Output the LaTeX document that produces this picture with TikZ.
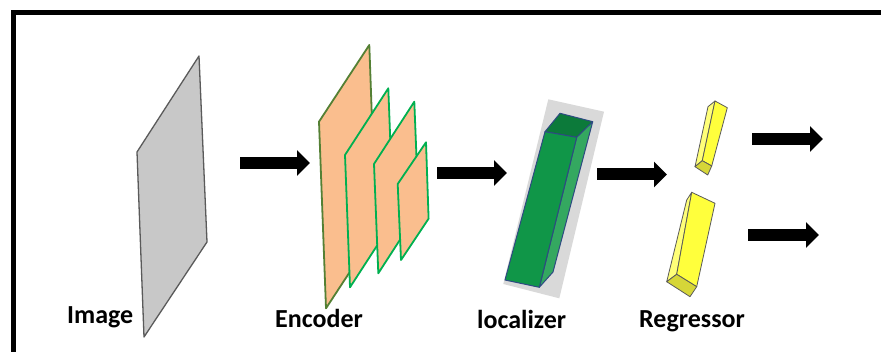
\documentclass[tikz,border=0pt]{standalone}
\usepackage{fontspec}
\setmainfont{Carlito}
\usetikzlibrary{arrows.meta}
\definecolor{planegray}{RGB}{200,200,200}
\definecolor{planeedge}{RGB}{90,90,90}
\definecolor{featfill}{RGB}{250,190,142}
\definecolor{oliveedge}{RGB}{84,128,52}
\definecolor{greenedge}{RGB}{0,176,80}
\definecolor{locfront}{RGB}{16,150,72}
\definecolor{loctop}{RGB}{12,122,58}
\definecolor{locside}{RGB}{52,168,96}
\definecolor{locedge}{RGB}{46,74,130}
\definecolor{locshadow}{RGB}{217,217,217}
\definecolor{yelface}{RGB}{255,255,60}
\definecolor{yelleft}{RGB}{255,255,120}
\definecolor{yelbottom}{RGB}{214,214,56}
\definecolor{yeledge}{RGB}{90,90,90}
\begin{document}
\begin{tikzpicture}[x=1pt,y=-1pt,
  label/.style={inner sep=0pt,anchor=base west,font=\fontsize{26}{30}\selectfont\bfseries},
  blockarrow/.style={line width=12pt,-{Triangle[length=13pt,width=25pt]}},
  plane/.style={fill=featfill,line width=1.8pt,line join=round},
  locbox/.style={draw=locedge,line width=1pt,line join=round},
  yelbox/.style={draw=yeledge,line width=0.8pt,line join=round}]
\useasboundingbox (0,0) rectangle (881,352);
\fill[white] (0,0) rectangle (881,352);

% frame
\draw[line width=5pt] (13,352) -- (13,12.5) -- (881,12.5);

% input image plane
\draw[fill=planegray,draw=planeedge,line width=1.3pt,line join=round]
  (199,56) -- (137,152) -- (144,337) -- (207,242) -- cycle;

% encoder feature maps
\draw[plane,draw=oliveedge] (369.3,45) -- (319,121.7) -- (326,308.3) -- (376,232) -- cycle;
\draw[plane,draw=greenedge] (388.3,88.3) -- (345,155) -- (350,287.3) -- (393.3,220.6) -- cycle;
\draw[plane,draw=greenedge] (414.3,101.7) -- (374,164) -- (378.3,273.3) -- (418.6,211) -- cycle;
\draw[plane,draw=greenedge] (426,142.3) -- (397.7,184) -- (401,260) -- (428.6,218.6) -- cycle;

% localizer column
\fill[locshadow] (548.3,99.3) -- (604,111.7) -- (559.3,298.3) -- (503.3,284) -- cycle;
\draw[locbox,fill=loctop] (545,131.7) -- (576.7,137.3) -- (592.7,121.7) -- (560,113.3) -- cycle;
\draw[locbox,fill=locside] (576.7,137.3) -- (592.7,121.7) -- (553,272) -- (539.3,287.3) -- cycle;
\draw[locbox,fill=locfront] (545,131.7) -- (576.7,137.3) -- (539.3,287.3) -- (505,280) -- cycle;

% regressor: small column
\draw[yelbox,fill=yelleft] (695,166.7) -- (702.3,160.7) -- (715,101) -- (708,106.7) -- cycle;
\draw[yelbox,fill=yelface] (702.3,160.7) -- (711.7,166) -- (727.3,107.7) -- (715,101) -- cycle;
\draw[yelbox,fill=yelbottom] (695,166.7) -- (702.3,160.7) -- (711.7,166) -- (707.7,175) -- cycle;

% regressor: large column
\draw[yelbox,fill=yelleft] (666.7,281.7) -- (676.7,274.3) -- (691.7,192.3) -- (686.7,200) -- cycle;
\draw[yelbox,fill=yelface] (676.7,274.3) -- (696.7,286.7) -- (715,203.3) -- (691.7,192.3) -- cycle;
\draw[yelbox,fill=yelbottom] (666.7,281.7) -- (676.7,274.3) -- (696.7,286.7) -- (690,296.7) -- cycle;

% arrow end points
\coordinate (a1s) at (240,163); \coordinate (a1e) at (310,163);
\coordinate (a2s) at (437,173); \coordinate (a2e) at (507,173);
\coordinate (a3s) at (597,174.5); \coordinate (a3e) at (667,174.5);
\coordinate (a4s) at (752,139); \coordinate (a4e) at (823,139);
\coordinate (a5s) at (748,235); \coordinate (a5e) at (819,235);
\draw[blockarrow] (a1s) -- (a1e);
\draw[blockarrow] (a2s) -- (a2e);
\draw[blockarrow] (a3s) -- (a3e);
\draw[blockarrow] (a4s) -- (a4e);
\draw[blockarrow] (a5s) -- (a5e);

% labels
\node[label] (limg) at (67,323.5) {Image};
\node[label] (lenc) at (275,328) {Encoder};
\node[label] (lloc) at (477,329) {localizer};
\node[label] (lreg) at (639,328) {Regressor};
\end{tikzpicture}
\end{document}
